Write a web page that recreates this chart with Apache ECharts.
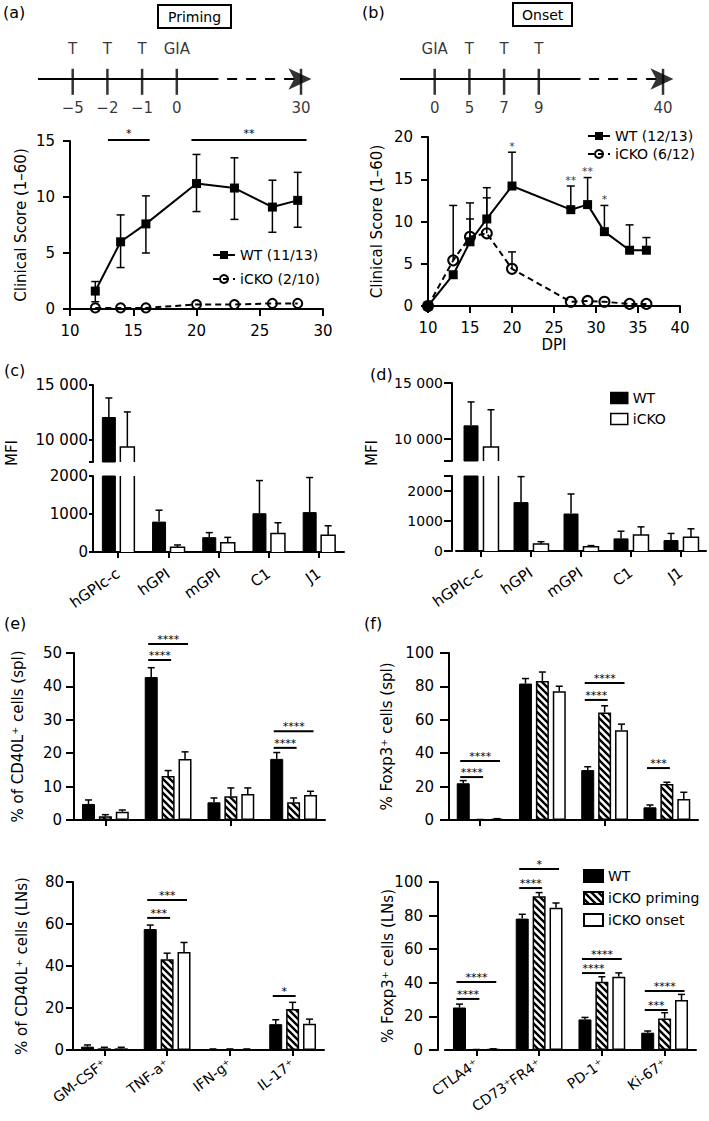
<!DOCTYPE html>
<html><head><meta charset="utf-8">
<script src="https://cdn.jsdelivr.net/npm/echarts@6/dist/echarts.min.js"></script>
<style>html,body{margin:0;padding:0;background:#fff}#c{width:709px;height:1121px}</style>
</head><body><div id="c"></div>
<script>
const FONT = 'DejaVu Sans';

// ---------- timeline schematics ----------
const tlPos = [0, 1, 2, 3, 6.58];
const tlATop = ['T', 'T', 'T', 'GIA', ''];
const tlABottom = ['\u22125', '\u22122', '\u22121', '0', '30'];
const tlBTop = ['GIA', 'T', 'T', 'T', ''];
const tlBBottom = ['0', '5', '7', '9', '40'];
const tlSolid = [-1, 4.2];
const tlDashed = [4.45, 6.5];
const tlArrow = 6.88;

// ---------- (a) priming ----------
const aDays = [12, 14, 16, 20, 23, 26, 28];
const aWT = [1.6, 6.0, 7.6, 11.2, 10.8, 9.1, 9.7];
const aWTLow = [0.65, 3.7, 5.0, 8.7, 8.0, 6.85, 7.3];
const aWTHigh = [2.45, 8.4, 10.1, 13.8, 13.5, 11.5, 12.2];
const aKO = [0.1, 0.1, 0.1, 0.4, 0.4, 0.5, 0.5];
const aSig = [[13.0, 16.3, 15.1, '*'], [19.6, 28.7, 15.1, '**']];

// ---------- (b) onset ----------
const bDays = [10, 13, 15, 17, 20, 27, 29, 31, 34, 36];
const bWT = [0, 3.7, 7.6, 10.3, 14.2, 11.4, 12.0, 8.8, 6.6, 6.6];
const bWTHigh = [0, 0, 12.2, 14.0, 18.2, 14.2, 15.2, 11.9, 9.6, 8.1];
const bKO = [0, 5.4, 8.2, 8.6, 4.4, 0.5, 0.6, 0.5, 0.25, 0.25];
const bKOHigh = [0, 11.9, 10.3, 12.8, 6.4, 0, 0, 0, 0, 0];
const bSig = [[20, '*'], [27, '**'], [29, '**'], [31, '*']];

// ---------- (c)/(d) MFI ----------
const mfiCats = ['hGPIc-c', 'hGPI', 'mGPI', 'C1', 'J1'];
const cWT = [12090, 800, 390, 1020, 1050];
const cWTHigh = [13820, 1100, 510, 1880, 1960];
const cKO = [9360, 125, 245, 490, 440];
const cKOHigh = [12550, 185, 385, 770, 690];
const dWT = [11200, 1630, 1250, 420, 365];
const dWTHigh = [13300, 2480, 1900, 660, 585];
const dKO = [9250, 230, 145, 530, 455];
const dKOHigh = [12600, 310, 180, 805, 740];

// ---------- (e) CD40L+ ----------
const eCats = ['GM-CSF\u207A', 'TNF-a\u207A', 'IFN-g\u207A', 'IL-17\u207A'];
const eSplWT = [4.8, 42.8, 5.3, 18.3];
const eSplWTHigh = [6.0, 45.6, 6.6, 20.2];
const eSplPri = [1.1, 13.2, 7.1, 5.3];
const eSplPriHigh = [1.6, 14.8, 9.6, 6.6];
const eSplOn = [2.5, 18.3, 7.8, 7.5];
const eSplOnHigh = [3.0, 20.4, 9.6, 8.6];
const eSplSig = [[1, 0, 1, 47.9, '****'], [1, 0, 2, 52.7, '****'], [3, 0, 1, 21.6, '****'], [3, 0, 2, 26.6, '****']];
const eLnWT = [1.6, 57.6, 0.3, 12.3];
const eLnWTHigh = [2.4, 59.5, 0.5, 14.4];
const eLnPri = [0.8, 43.2, 0.3, 19.5];
const eLnPriHigh = [1.3, 46.1, 0.5, 22.7];
const eLnOn = [0.8, 46.7, 0.3, 12.5];
const eLnOnHigh = [1.3, 51.2, 0.5, 14.7];
const eLnSig = [[1, 0, 1, 62.9, '***'], [1, 0, 2, 71.4, '***'], [3, 0, 1, 25.7, '*']];

// ---------- (f) Foxp3+ ----------
const fCats = ['CTLA4\u207A', 'CD73\u207AFR4\u207A', 'PD-1\u207A', 'Ki-67\u207A'];
const fSplWT = [22.0, 81.7, 29.9, 7.6];
const fSplWTHigh = [23.6, 84.7, 31.9, 9.0];
const fSplPri = [0.2, 83.3, 64.4, 21.6];
const fSplPriHigh = [0.3, 88.6, 68.4, 22.6];
const fSplOn = [0.5, 77.1, 53.8, 12.6];
const fSplOnHigh = [0.8, 80.1, 57.4, 16.6];
const fSplSig = [[0, 0, 1, 25.7, '****'], [0, 0, 2, 35.3, '****'], [2, 0, 1, 71.9, '****'], [2, 0, 2, 82, '****'], [3, 0, 1, 31.1, '***']];
const fLnWT = [25.3, 78.2, 18.2, 10.3];
const fLnWTHigh = [27.3, 80.8, 19.4, 11.3];
const fLnPri = [0.2, 91.5, 40.6, 18.8];
const fLnPriHigh = [0.3, 93.7, 43.6, 22.2];
const fLnOn = [0.5, 84.6, 43.6, 29.7];
const fLnOnHigh = [0.7, 87.5, 45.9, 33.1];
const fLnSig = [[0, 0, 1, 30.4, '****'], [0, 0, 2, 40.5, '****'], [1, 0, 1, 96.4, '****'], [1, 0, 2, 107.7, '*'], [2, 0, 1, 45.8, '****'], [2, 0, 2, 54.2, '****'], [3, 0, 1, 23.8, '***'], [3, 0, 2, 35.1, '****']];

// ---------- helpers ----------
function makeHatch() {
  const c = document.createElement('canvas'); c.width = 7; c.height = 7;
  const x = c.getContext('2d');
  x.fillStyle = '#fff'; x.fillRect(0, 0, 7, 7);
  x.strokeStyle = '#000'; x.lineWidth = 2.4; x.beginPath();
  for (let o = -7; o <= 7; o += 7) { x.moveTo(o - 1, -1); x.lineTo(o + 8, 8); }
  x.stroke();
  return c;
}
const hatch = makeHatch();
const BLACK = '#000';
const lineSt = { stroke: BLACK, lineWidth: 1.5 };
const fmtMFI = v => v >= 10000 ? String(v).slice(0, -3) + ' ' + String(v).slice(-3) : String(v);

function errRender(cap, both) {
  return function (params, api) {
    const x = api.value(0), lo = api.value(1), hi = api.value(2);
    const a = api.coord([x, lo]), b = api.coord([x, hi]);
    const ch = [
      { type: 'line', shape: { x1: a[0], y1: a[1], x2: b[0], y2: b[1] }, style: lineSt },
      { type: 'line', shape: { x1: b[0] - cap / 2, y1: b[1], x2: b[0] + cap / 2, y2: b[1] }, style: lineSt }
    ];
    if (both) ch.push({ type: 'line', shape: { x1: a[0] - cap / 2, y1: a[1], x2: a[0] + cap / 2, y2: a[1] }, style: lineSt });
    return { type: 'group', children: ch };
  };
}
function barErrRender(n, w, gapFrac, cap) {
  const step = w * (1 + gapFrac);
  return function (params, api) {
    const cat = api.value(0), v = api.value(1), hi = api.value(2), k = api.value(3);
    const a = api.coord([cat, v]), b = api.coord([cat, hi]);
    const x = a[0] + (k - (n - 1) / 2) * step;
    return { type: 'group', children: [
      { type: 'line', shape: { x1: x, y1: a[1], x2: x, y2: b[1] }, style: lineSt },
      { type: 'line', shape: { x1: x - cap / 2, y1: b[1], x2: x + cap / 2, y2: b[1] }, style: lineSt }
    ] };
  };
}
// open outline (left, top, right) of a bar, so that clipped ends stay open like a broken axis
function barOutlineRender(n, w, gapFrac) {
  const step = w * (1 + gapFrac);
  return function (params, api) {
    const cat = api.value(0), v = api.value(1), k = api.value(2);
    const a = api.coord([cat, v]), b = api.coord([cat, 0]);
    const x = a[0] + (k - (n - 1) / 2) * step;
    return { type: 'polyline', shape: { points: [[x - w / 2, b[1]], [x - w / 2, a[1]], [x + w / 2, a[1]], [x + w / 2, b[1]]] },
      style: { stroke: BLACK, lineWidth: 1.5, fill: null } };
  };
}
function sigText(x, y, t) {
  return { type: 'text', x: x, y: y, style: { text: t, fill: BLACK, fontSize: 11, fontFamily: FONT, align: 'center', verticalAlign: 'bottom' } };
}
function barSigRender(n, w, gapFrac, texts) {
  const step = w * (1 + gapFrac);
  return function (params, api) {
    const cat = api.value(0), f = api.value(1), t = api.value(2), y = api.value(3);
    const p = api.coord([cat, y]);
    const x1 = p[0] + (f - (n - 1) / 2) * step - 3, x2 = p[0] + (t - (n - 1) / 2) * step + 3;
    return { type: 'group', children: [
      { type: 'line', shape: { x1: x1, y1: p[1], x2: x2, y2: p[1] }, style: { stroke: BLACK, lineWidth: 2 } },
      sigText((x1 + x2) / 2, p[1] + 1, texts[params.dataIndex])
    ] };
  };
}
function valSigRender(texts) {
  return function (params, api) {
    const a = api.coord([api.value(0), api.value(2)]), b = api.coord([api.value(1), api.value(2)]);
    return { type: 'group', children: [
      { type: 'line', shape: { x1: a[0], y1: a[1], x2: b[0], y2: b[1] }, style: { stroke: BLACK, lineWidth: 2 } },
      sigText((a[0] + b[0]) / 2, a[1] - 1, texts[params.dataIndex])
    ] };
  };
}

// ---------- layout ----------
const grids = [
  { left: 38, top: 39, width: 288, height: 80 },
  { left: 400, top: 39, width: 288, height: 80 },
  { left: 70, top: 141, width: 253, height: 168 },
  { left: 428, top: 137, width: 252, height: 169 },
  { left: 93, top: 385, width: 251, height: 77 },
  { left: 93, top: 476, width: 251, height: 76 },
  { left: 456, top: 383, width: 250, height: 78 },
  { left: 456, top: 476, width: 250, height: 75 },
  { left: 74, top: 653, width: 251, height: 167 },
  { left: 73, top: 882, width: 251, height: 168 },
  { left: 449, top: 653, width: 249, height: 167 },
  { left: 445, top: 882, width: 251, height: 168 }
].map(g => Object.assign({ containLabel: false, outerBoundsMode: 'none' }, g));

const axLine = { show: true, onZero: false, lineStyle: { color: BLACK, width: 2 } };
const tk = len => ({ show: true, length: len, lineStyle: { color: BLACK, width: 2 } });
const lb = (m, extra) => Object.assign({ show: true, color: BLACK, fontFamily: FONT, fontSize: 15, margin: m }, extra || {});
const nm = { color: BLACK, fontFamily: FONT, fontSize: 15 };

const xAxes = [
  { type: 'value', gridIndex: 0, min: -1, max: 7.3, show: false },
  { type: 'value', gridIndex: 1, min: -1, max: 7.3, show: false },
  { type: 'value', gridIndex: 2, min: 10, max: 30, interval: 5, axisLine: axLine, axisTick: tk(7), axisLabel: lb(14), splitLine: { show: false } },
  { type: 'value', gridIndex: 3, min: 10, max: 40, interval: 5, axisLine: axLine, axisTick: tk(7), axisLabel: lb(14), splitLine: { show: false },
    name: 'DPI', nameLocation: 'middle', nameGap: 31, nameTextStyle: nm, nameMoveOverlap: false },
  { type: 'category', gridIndex: 4, data: mfiCats, show: false },
  { type: 'category', gridIndex: 5, data: mfiCats, axisLine: axLine, axisTick: Object.assign(tk(6), { alignWithLabel: true }), axisLabel: lb(20, { rotate: 35, interval: 0 }) },
  { type: 'category', gridIndex: 6, data: mfiCats, show: false },
  { type: 'category', gridIndex: 7, data: mfiCats, axisLine: axLine, axisTick: Object.assign(tk(6), { alignWithLabel: true }), axisLabel: lb(20, { rotate: 35, interval: 0 }) },
  { type: 'category', gridIndex: 8, data: eCats, axisLine: axLine, axisTick: Object.assign(tk(6), { alignWithLabel: true }), axisLabel: { show: false } },
  { type: 'category', gridIndex: 9, data: eCats, axisLine: axLine, axisTick: Object.assign(tk(6), { alignWithLabel: true }), axisLabel: lb(12, { rotate: 37, interval: 0, fontSize: 14 }) },
  { type: 'category', gridIndex: 10, data: fCats, axisLine: axLine, axisTick: Object.assign(tk(6), { alignWithLabel: true }), axisLabel: { show: false } },
  { type: 'category', gridIndex: 11, data: fCats, axisLine: axLine, axisTick: Object.assign(tk(6), { alignWithLabel: true }), axisLabel: lb(12, { rotate: 35, interval: 0, fontSize: 14 }) }
];

function vY(gi, min, max, interval, tick, margin, extra) {
  return Object.assign({ type: 'value', gridIndex: gi, min: min, max: max, interval: interval,
    axisLine: axLine, axisTick: tk(tick), axisLabel: lb(margin), splitLine: { show: false },
    nameTextStyle: nm, nameLocation: 'middle', nameMoveOverlap: false }, extra || {});
}
const yAxes = [
  { type: 'value', gridIndex: 0, min: -1, max: 1, show: false },
  { type: 'value', gridIndex: 1, min: -1, max: 1, show: false },
  vY(2, 0, 15, 5, 7, 15, { name: 'Clinical Score (1\u201360)', nameGap: 42 }),
  vY(3, 0, 20, 5, 7, 15, { name: 'Clinical Score (1\u201360)', nameGap: 44 }),
  vY(4, 8000, 15000, undefined, 4, 5, {
    axisLabel: lb(5, { customValues: [10000, 15000], formatter: fmtMFI }),
    axisTick: Object.assign(tk(4), { customValues: [8000, 10000, 15000] }) }),
  vY(5, 0, 2000, 1000, 4, 5, { axisLabel: lb(5, { formatter: fmtMFI }) }),
  vY(6, 8000, 15000, undefined, 8, 9, { offset: 4,
    axisLabel: lb(9, { customValues: [10000, 15000], formatter: fmtMFI, fontSize: 14 }),
    axisTick: Object.assign(tk(8), { customValues: [8000, 10000, 15000] }) }),
  vY(7, 0, 2500, undefined, 8, 9, { offset: 4,
    axisLabel: lb(9, { customValues: [0, 1000, 2000], formatter: fmtMFI, fontSize: 14 }),
    axisTick: Object.assign(tk(8), { customValues: [0, 1000, 2000, 2500] }) }),
  vY(8, 0, 50, 10, 8, 12, { name: '% of CD40L\u207A cells (spl)', nameGap: 49 }),
  vY(9, 0, 80, 20, 7, 9, { name: '% of CD40L\u207A cells (LNs)', nameGap: 44 }),
  vY(10, 0, 100, 20, 9, 15, { name: '% Foxp3\u207A cells (spl)', nameGap: 55 }),
  vY(11, 0, 100, 20, 9, 15, { name: '% Foxp3\u207A cells (LNs)', nameGap: 43, offset: 7 })
];

// ---------- series ----------
const S = [];
const base = { animation: false, silent: true };
const clear = { color: 'rgba(0,0,0,0)' };
function timeline(g, tops, bottoms) {
  S.push(Object.assign({ type: 'line', xAxisIndex: g, yAxisIndex: g, data: tlSolid.map(x => [x, 0]), symbol: 'none', lineStyle: { color: BLACK, width: 2 } }, base));
  S.push(Object.assign({ type: 'line', xAxisIndex: g, yAxisIndex: g, data: tlDashed.map(x => [x, 0]), symbol: 'none', lineStyle: { color: BLACK, width: 2, type: [10, 9] } }, base));
  S.push(Object.assign({ type: 'scatter', xAxisIndex: g, yAxisIndex: g, data: tlPos.map(x => [x, -0.07]), symbol: 'rect', symbolSize: [2.5, 26], itemStyle: { color: BLACK } }, base));
  S.push(Object.assign({ type: 'scatter', xAxisIndex: g, yAxisIndex: g, data: tlPos.map(x => [x, 0.75]), symbolSize: 1, itemStyle: clear,
    label: { show: true, position: 'inside', formatter: p => tops[p.dataIndex], color: BLACK, fontFamily: FONT, fontSize: 15 } }, base));
  S.push(Object.assign({ type: 'scatter', xAxisIndex: g, yAxisIndex: g, data: tlPos.map(x => [x, -0.72]), symbolSize: 1, itemStyle: clear,
    label: { show: true, position: 'inside', formatter: p => bottoms[p.dataIndex], color: BLACK, fontFamily: FONT, fontSize: 15 } }, base));
  S.push(Object.assign({ type: 'scatter', xAxisIndex: g, yAxisIndex: g, data: [[tlArrow, 0]], symbol: 'arrow', symbolRotate: -90, symbolSize: [16, 23], itemStyle: { color: BLACK } }, base));
}
timeline(0, tlATop, tlABottom);
timeline(1, tlBTop, tlBBottom);

// (a)
S.push(Object.assign({ type: 'custom', xAxisIndex: 2, yAxisIndex: 2, renderItem: errRender(8, true), itemStyle: { color: BLACK }, data: aDays.map((d, i) => [d, aWTLow[i], aWTHigh[i]]), z: 1 }, base));
S.push(Object.assign({ type: 'line', name: 'WT (11/13)', xAxisIndex: 2, yAxisIndex: 2, data: aDays.map((d, i) => [d, aWT[i]]), symbol: 'rect', symbolSize: 9,
  itemStyle: { color: BLACK }, lineStyle: { color: BLACK, width: 2 }, z: 3 }, base));
S.push(Object.assign({ type: 'line', name: 'iCKO (2/10)', xAxisIndex: 2, yAxisIndex: 2, data: aDays.map((d, i) => [d, aKO[i]]), symbol: 'circle', symbolSize: 9,
  itemStyle: { color: 'rgba(255,255,255,0)', borderColor: BLACK, borderWidth: 2 }, lineStyle: { color: BLACK, width: 2, type: [6, 4] }, z: 3 }, base));
S.push(Object.assign({ type: 'custom', xAxisIndex: 2, yAxisIndex: 2, renderItem: valSigRender(aSig.map(s => s[3])), itemStyle: { color: BLACK }, data: aSig.map(s => [s[0], s[1], s[2]]) }, base));

// (b)
const bErr = [];
bDays.forEach((d, i) => {
  if (bWTHigh[i] > bWT[i]) bErr.push([d, bWT[i], bWTHigh[i]]);
  if (bKOHigh[i] > bKO[i]) bErr.push([d, bKO[i], bKOHigh[i]]);
});
S.push(Object.assign({ type: 'custom', xAxisIndex: 3, yAxisIndex: 3, renderItem: errRender(8, false), itemStyle: { color: BLACK }, data: bErr, z: 1 }, base));
S.push(Object.assign({ type: 'line', name: 'WT (12/13)', xAxisIndex: 3, yAxisIndex: 3, data: bDays.map((d, i) => [d, bWT[i]]), symbol: 'rect', symbolSize: 9,
  itemStyle: { color: BLACK }, lineStyle: { color: BLACK, width: 2 }, z: 3 }, base));
S.push(Object.assign({ type: 'line', name: 'iCKO (6/12)', xAxisIndex: 3, yAxisIndex: 3, data: bDays.map((d, i) => [d, bKO[i]]), symbol: 'circle', symbolSize: 10,
  itemStyle: { color: 'rgba(255,255,255,0)', borderColor: BLACK, borderWidth: 2 }, lineStyle: { color: BLACK, width: 2, type: [6, 4] }, z: 3 }, base));
S.push(Object.assign({ type: 'scatter', xAxisIndex: 3, yAxisIndex: 3, data: bSig.map(s => [s[0], bWTHigh[bDays.indexOf(s[0])]]), symbolSize: 1, itemStyle: clear,
  label: { show: true, position: 'top', distance: 0, formatter: p => bSig[p.dataIndex][1], color: BLACK, fontFamily: FONT, fontSize: 11 } }, base));

// (c)/(d)
function mfi(giU, giL, wt, wtH, ko, koH, w, gap) {
  [giU, giL].forEach(gi => {
    const common = { type: 'bar', xAxisIndex: gi, yAxisIndex: gi, barWidth: w, barGap: Math.round(gap * 100) + '%', clip: true };
    S.push(Object.assign({}, base, common, { name: 'WT', data: wt, itemStyle: { color: BLACK, borderColor: BLACK, borderWidth: 1 } }));
    S.push(Object.assign({}, base, common, { name: 'iCKO', data: ko, itemStyle: { color: '#fff', borderWidth: 0 } }));
    S.push(Object.assign({ type: 'custom', xAxisIndex: gi, yAxisIndex: gi, clip: true, renderItem: barOutlineRender(2, w, gap), itemStyle: { color: BLACK },
      data: ko.map((v, i) => [i, v, 1]), z: 4 }, base));
  });
  const up = [[0, wt[0], wtH[0], 0], [0, ko[0], koH[0], 1]];
  const lo = [];
  for (let i = 1; i < wt.length; i++) { lo.push([i, wt[i], wtH[i], 0]); lo.push([i, ko[i], koH[i], 1]); }
  S.push(Object.assign({ type: 'custom', xAxisIndex: giU, yAxisIndex: giU, renderItem: barErrRender(2, w, gap, 7), itemStyle: { color: BLACK }, data: up, z: 5 }, base));
  S.push(Object.assign({ type: 'custom', xAxisIndex: giL, yAxisIndex: giL, renderItem: barErrRender(2, w, gap, 7), itemStyle: { color: BLACK }, data: lo, z: 5 }, base));
}
mfi(4, 5, cWT, cWTHigh, cKO, cKOHigh, 14, 0.32);
mfi(6, 7, dWT, dWTHigh, dKO, dKOHigh, 15, 0.33);

// (e)/(f)
function triple(gi, wt, wtH, pri, priH, on, onH, sig) {
  const common = { type: 'bar', xAxisIndex: gi, yAxisIndex: gi, barWidth: 13, barGap: '30%' };
  S.push(Object.assign({}, base, common, { name: 'WT', data: wt, itemStyle: { color: BLACK, borderColor: BLACK, borderWidth: 1 } }));
  S.push(Object.assign({}, base, common, { name: 'iCKO priming', data: pri, itemStyle: { color: { image: hatch, repeat: 'repeat' }, borderColor: BLACK, borderWidth: 1.5 } }));
  S.push(Object.assign({}, base, common, { name: 'iCKO onset', data: on, itemStyle: { color: '#fff', borderColor: BLACK, borderWidth: 1.5 } }));
  const ed = [];
  wt.forEach((v, i) => { ed.push([i, wt[i], wtH[i], 0]); ed.push([i, pri[i], priH[i], 1]); ed.push([i, on[i], onH[i], 2]); });
  S.push(Object.assign({ type: 'custom', xAxisIndex: gi, yAxisIndex: gi, renderItem: barErrRender(3, 13, 0.3, 7), itemStyle: { color: BLACK }, data: ed, z: 5 }, base));
  S.push(Object.assign({ type: 'custom', xAxisIndex: gi, yAxisIndex: gi, renderItem: barSigRender(3, 13, 0.3, sig.map(s => s[4])), itemStyle: { color: BLACK }, data: sig.map(s => s.slice(0, 4)), z: 5 }, base));
}
triple(8, eSplWT, eSplWTHigh, eSplPri, eSplPriHigh, eSplOn, eSplOnHigh, eSplSig);
triple(9, eLnWT, eLnWTHigh, eLnPri, eLnPriHigh, eLnOn, eLnOnHigh, eLnSig);
triple(10, fSplWT, fSplWTHigh, fSplPri, fSplPriHigh, fSplOn, fSplOnHigh, fSplSig);
triple(11, fLnWT, fLnWTHigh, fLnPri, fLnPriHigh, fLnOn, fLnOnHigh, fLnSig);

// ---------- titles, legends ----------
const tStyle = { fontFamily: FONT, fontSize: 16, fontWeight: 'normal', color: BLACK };
const boxStyle = { fontFamily: FONT, fontSize: 14, fontWeight: 'normal', color: BLACK };
const titles = [
  { text: '(a)', left: 3, top: 4, padding: 0, textStyle: tStyle },
  { text: '(b)', left: 362, top: 4, padding: 0, textStyle: tStyle },
  { text: '(c)', left: 4, top: 362, padding: 0, textStyle: tStyle },
  { text: '(d)', left: 370, top: 366, padding: 0, textStyle: tStyle },
  { text: '(e)', left: 4, top: 615, padding: 0, textStyle: tStyle },
  { text: '(f)', left: 364, top: 615, padding: 0, textStyle: tStyle },
  { text: 'Priming', left: 158, top: 5, padding: [5, 10, 4, 10], borderColor: BLACK, borderWidth: 2, textStyle: boxStyle },
  { text: 'Onset', left: 513, top: 3, padding: [5, 9, 4, 9], borderColor: BLACK, borderWidth: 2, textStyle: boxStyle }
];
const lgText = { fontFamily: FONT, fontSize: 14, color: BLACK };
const legends = [
  { data: ['WT (11/13)', 'iCKO (2/10)'], orient: 'vertical', left: 212, top: 248, itemWidth: 22, itemHeight: 10, itemGap: 10, padding: 0, selectedMode: false, textStyle: lgText },
  { data: ['WT (12/13)', 'iCKO (6/12)'], orient: 'vertical', left: 587, top: 129, itemWidth: 22, itemHeight: 10, itemGap: 4, padding: 0, selectedMode: false, textStyle: lgText },
  { data: ['WT', 'iCKO'], orient: 'vertical', left: 610, top: 391, itemWidth: 17, itemHeight: 11, itemGap: 7, padding: 0, icon: 'rect', selectedMode: false, textStyle: lgText,
    itemStyle: { borderColor: BLACK, borderWidth: 1.5 } },
  { data: ['WT', 'iCKO priming', 'iCKO onset'], orient: 'vertical', left: 583, top: 869, itemWidth: 19, itemHeight: 12, itemGap: 8, padding: 0, icon: 'rect', selectedMode: false, textStyle: lgText }
];
const graphics = [
  { type: 'text', x: 12, y: 453, rotation: Math.PI / 2, style: { text: 'MFI', fontFamily: FONT, fontSize: 15, fill: BLACK, align: 'center', verticalAlign: 'middle' } },
  { type: 'text', x: 372, y: 453, rotation: Math.PI / 2, style: { text: 'MFI', fontFamily: FONT, fontSize: 15, fill: BLACK, align: 'center', verticalAlign: 'middle' } }
];

const chart = echarts.init(document.getElementById('c'), null, { renderer: 'svg' });
chart.setOption({
  animation: false,
  backgroundColor: '#fff',
  color: [BLACK],
  textStyle: { fontFamily: FONT, color: BLACK },
  title: titles,
  legend: legends,
  grid: grids,
  xAxis: xAxes,
  yAxis: yAxes,
  graphic: graphics,
  series: S
});
</script></body></html>
